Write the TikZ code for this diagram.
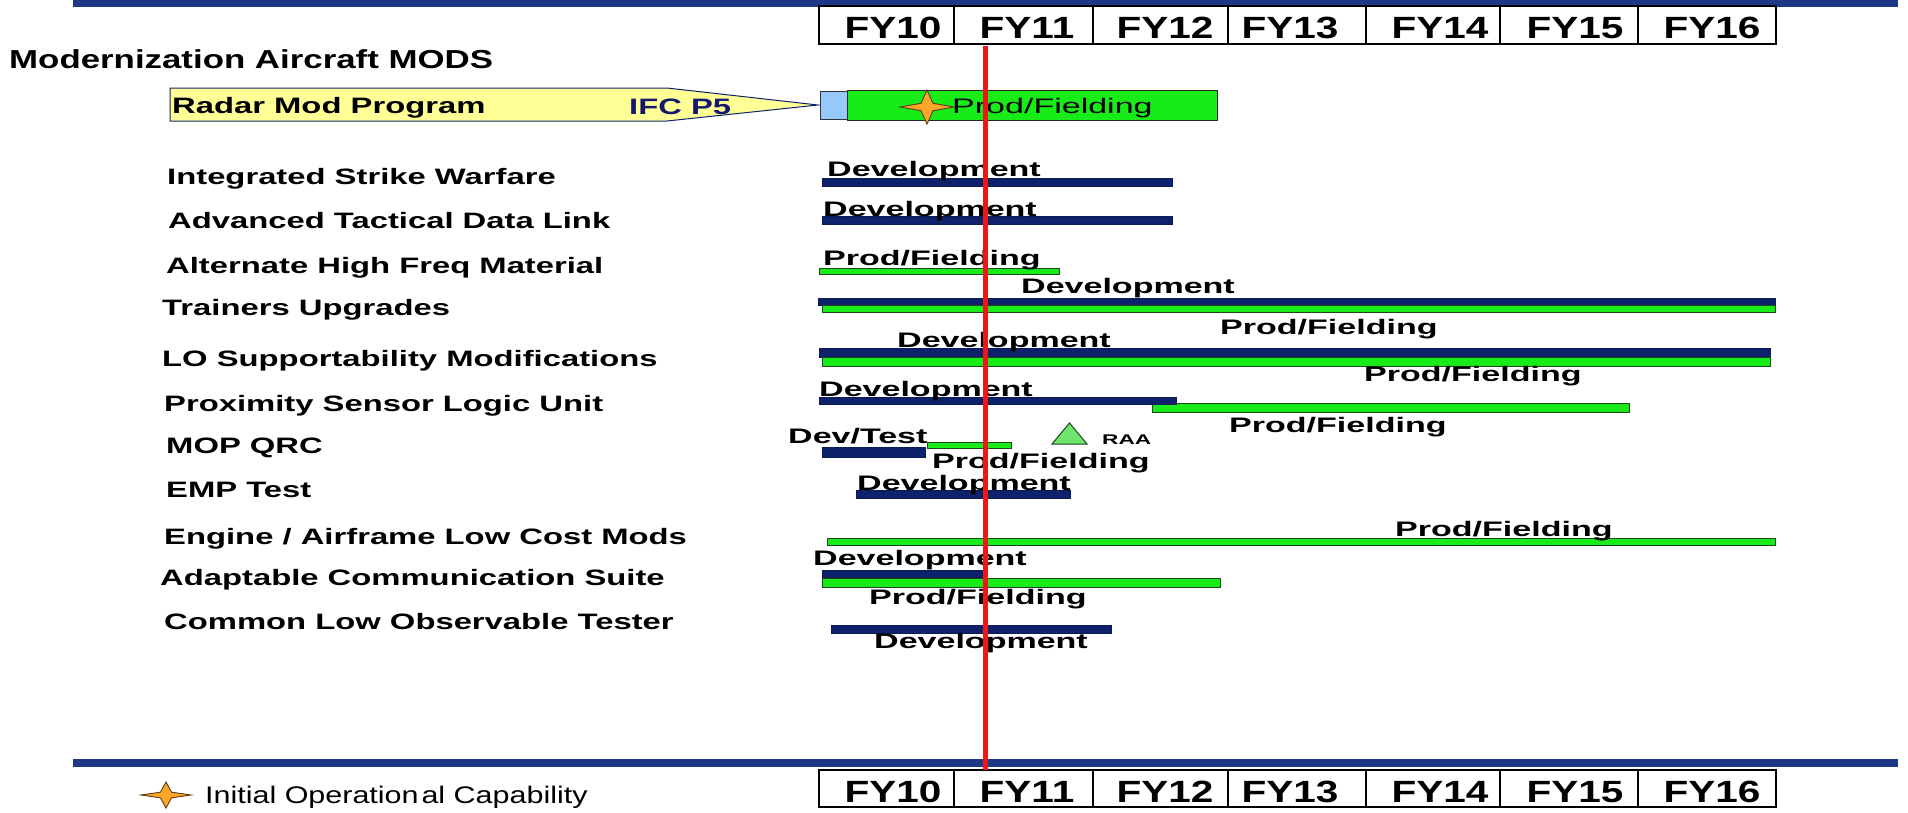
\documentclass[tikz,border=0pt]{standalone}
\usepackage{fontspec}
\setmainfont{Liberation Sans}
\newfontfamily\fyfam[FakeStretch=1.32]{Liberation Sans}
\newfontfamily\lblfam[FakeStretch=1.47]{Liberation Sans}
\newfontfamily\barfam[FakeStretch=1.62]{Liberation Sans}
\newfontfamily\modfam[FakeStretch=1.34]{Liberation Sans}
\newfontfamily\legfam[FakeStretch=1.27]{Liberation Sans}
\definecolor{topblue}{RGB}{30,56,136}
\definecolor{navybar}{RGB}{14,34,108}
\definecolor{prodgreen}{RGB}{24,236,24}
\definecolor{darkgreen}{RGB}{30,70,30}
\definecolor{yellowfill}{RGB}{255,255,150}
\definecolor{lightblue}{RGB}{150,200,250}
\definecolor{ifcblue}{RGB}{22,24,110}
\definecolor{redline}{RGB}{236,24,24}
\definecolor{starorange}{RGB}{255,165,40}
\definecolor{starbrown}{RGB}{90,60,20}
\definecolor{trigreen}{RGB}{110,230,110}
\tikzset{
  lbl/.style={anchor=base west, inner sep=0pt, font=\lblfam\bfseries\fontsize{22.3}{26}\selectfont},
  bartxt/.style={anchor=base west, inner sep=0pt, font=\barfam\bfseries\fontsize{21}{24}\selectfont},
  fytxt/.style={anchor=base, inner sep=0pt, font=\fyfam\bfseries\fontsize{30.7}{34}\selectfont},
  devbar/.style={fill=navybar, draw=navybar!80!black, line width=0.6pt},
  prodbar/.style={fill=prodgreen, draw=darkgreen, line width=1pt},
  fybox/.style={draw=black, line width=1.2pt, fill=white},
  iocstar/.pic={\path[fill=starorange, draw=starbrown, line width=0.9pt]
     (-1,0) -- (-0.22,-0.22) -- (0,-1) -- (0.22,-0.22) -- (1,0) -- (0.22,0.22) -- (0,1) -- (-0.22,0.22) -- cycle;}
}
\begin{document}
\begin{tikzpicture}[x=1pt,y=-1pt]
\useasboundingbox (0,0) rectangle (1908,812);
\fill[white] (0,0) rectangle (1908,812);
% top and bottom rules
\fill[topblue] (73,0) rectangle (1898,7);
\fill[topblue] (73,759) rectangle (1898,767);
% year boxes
\foreach \a/\b in {819/954,954/1093,1093/1228,1228/1366,1366/1500,1500/1638,1638/1776}{
  \draw[fybox] (\a,6) rectangle (\b,44);
  \draw[fybox] (\a,770) rectangle (\b,807);
}
\node[fytxt] (t10) at (893,38) {FY10};
\node[fytxt] (t11) at (1027,38) {FY11};
\node[fytxt] (t12) at (1165,38) {FY12};
\node[fytxt] (t13) at (1290,38) {FY13};
\node[fytxt] (t14) at (1440,38) {FY14};
\node[fytxt] (t15) at (1575,38) {FY15};
\node[fytxt] (t16) at (1712,38) {FY16};
\node[fytxt] (b10) at (893,802) {FY10};
\node[fytxt] (b11) at (1027,802) {FY11};
\node[fytxt] (b12) at (1165,802) {FY12};
\node[fytxt] (b13) at (1290,802) {FY13};
\node[fytxt] (b14) at (1440,802) {FY14};
\node[fytxt] (b15) at (1575,802) {FY15};
\node[fytxt] (b16) at (1712,802) {FY16};
% heading
\node[anchor=base west, inner sep=0pt, font=\modfam\bfseries\fontsize{26}{30}\selectfont] (mods) at (9,68) {Modernization Aircraft MODS};
% radar mod program row
\draw[fill=yellowfill, draw=navybar, line width=1pt] (170,88) -- (667,88) -- (818,105) -- (667,121) -- (170,121) -- cycle;
\node[lbl] (radar) at (172,113) {Radar Mod Program};
\node[lbl, text=ifcblue] (ifc) at (629,114) {IFC P5};
\draw[fill=lightblue, draw=black!80, line width=1pt] (820,91) rectangle (847,119);
\draw[fill=prodgreen, draw=black!85, line width=1pt] (847,90) rectangle (1217,120);
\node[bartxt, font=\barfam\fontsize{21}{24}\selectfont] (rpf) at (952,113) {Prod/Fielding};
\pic[xscale=27,yscale=17] at (927,107) {iocstar};
% left labels
\node[lbl] (l1) at (167,184) {Integrated Strike Warfare};
\node[lbl] (l2) at (168,228) {Advanced Tactical Data Link};
\node[lbl] (l3) at (166,273) {Alternate High Freq Material};
\node[lbl] (l4) at (162,315) {Trainers Upgrades};
\node[lbl] (l5) at (162,366) {LO Supportability Modifications};
\node[lbl] (l6) at (164,411) {Proximity Sensor Logic Unit};
\node[lbl] (l7) at (166,453) {MOP QRC};
\node[lbl] (l8) at (166,497) {EMP Test};
\node[lbl] (l9) at (164,544) {Engine / Airframe Low Cost Mods};
\node[lbl] (l10) at (160,585) {Adaptable Communication Suite};
\node[lbl] (l11) at (164,629) {Common Low Observable Tester};
% bars
\path[devbar] (822,178) rectangle (1172,186);
\path[devbar] (822,216) rectangle (1172,224);
\path[prodbar] (819,268) rectangle (1059,274);
\path[devbar] (818,298) rectangle (1775,305);
\path[prodbar] (822,305) rectangle (1775,312);
\path[devbar] (819,348) rectangle (1770,357);
\path[prodbar] (822,357) rectangle (1770,366);
\path[prodbar] (1152,403) rectangle (1629,412);
\path[devbar] (819,397) rectangle (1176,404);
\path[devbar] (822,447) rectangle (925,457);
\path[prodbar] (927,442) rectangle (1011,448);
\path[devbar] (856,490) rectangle (1070,498);
\path[prodbar] (827,538) rectangle (1775,545);
\path[devbar] (822,570) rectangle (984,577);
\path[prodbar] (822,578) rectangle (1220,587);
\path[devbar] (831,625) rectangle (1111,633);
% bar labels
\node[bartxt] (d1) at (827,176) {Development};
\node[bartxt] (d2) at (823,216) {Development};
\node[bartxt] (p3) at (823,265) {Prod/Fielding};
\node[bartxt] (d4) at (1021,293) {Development};
\node[bartxt] (p4) at (1220,334) {Prod/Fielding};
\node[bartxt] (d5) at (897,347) {Development};
\node[bartxt] (p5) at (1364,381) {Prod/Fielding};
\node[bartxt] (d6) at (819,396) {Development};
\node[bartxt] (p6) at (1229,432) {Prod/Fielding};
\node[bartxt] (d7) at (788,443) {Dev/Test};
\node[bartxt] (p7) at (932,468) {Prod/Fielding};
\draw[fill=trigreen, draw=darkgreen, line width=1pt] (1052,444) -- (1069.5,423) -- (1087,444) -- cycle;
\node[anchor=base west, inner sep=0pt, font=\barfam\bfseries\fontsize{14}{16}\selectfont] (raa) at (1102,444) {RAA};
\node[bartxt] (d8) at (857,490) {Development};
\node[bartxt] (p9) at (1395,536) {Prod/Fielding};
\node[bartxt] (d10) at (813,565) {Development};
\node[bartxt] (p10) at (869,604) {Prod/Fielding};
\node[bartxt] (d11) at (874,648) {Development};
% legend
\pic[xscale=25,yscale=13] at (166,795) {iocstar};
\node[anchor=base west, inner sep=0pt, font=\legfam\fontsize{24}{28}\selectfont] (leg) at (205,803) {Initial Operation\hspace{0.12em}al Capability};
% today line
\coordinate (rtop) at (985,46);
\coordinate (rbot) at (985,770);
\draw[redline, line width=5pt] (rtop) -- (rbot);
\end{tikzpicture}
\end{document}
